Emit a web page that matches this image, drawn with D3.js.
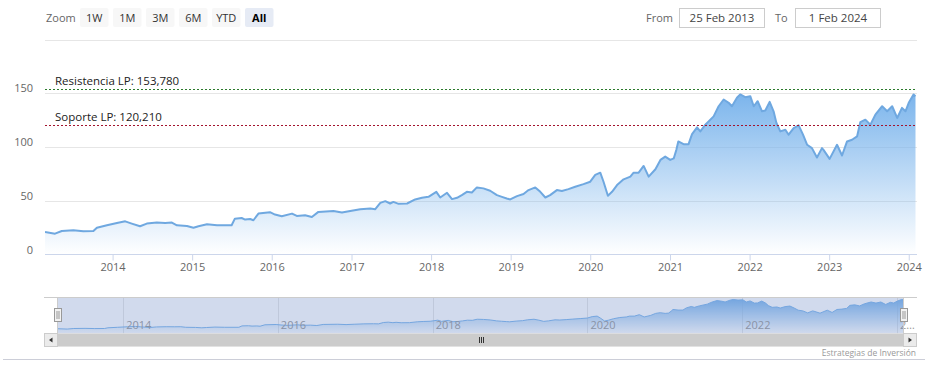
<!DOCTYPE html>
<html lang="es">
<head>
<meta charset="UTF-8">
<title>Cotización</title>
<script src="https://d3js.org/d3.v7.min.js"></script>
<style>
  body { margin: 0; background: #fff; }
  svg text { font-family: "Open Sans", "Noto Sans", sans-serif; }
</style>
</head>
<body>
<svg id="chart" width="931" height="373"></svg>
<script>
  // weekly-ish closes
  const dates = [
    "2013-02-25","2013-04-12","2013-05-13","2013-07-05","2013-08-20","2013-10-05","2013-10-21","2013-12-06",
    "2014-01-21","2014-02-28","2014-03-30","2014-05-07","2014-06-07","2014-07-23","2014-08-30","2014-09-30","2014-10-23","2014-12-08",
    "2015-01-07","2015-01-30","2015-03-10","2015-04-25","2015-07-01","2015-07-16","2015-08-16","2015-09-01","2015-09-24","2015-10-09","2015-11-01","2015-12-24",
    "2016-01-16","2016-02-16","2016-04-03","2016-04-25","2016-06-02","2016-07-03","2016-08-02","2016-10-10","2016-11-18","2016-12-26",
    "2017-02-10","2017-03-28","2017-04-20","2017-05-13","2017-06-05","2017-06-27","2017-07-12","2017-08-05","2017-09-13","2017-10-20","2017-11-20","2017-12-20",
    "2018-01-25","2018-02-12","2018-03-15","2018-04-07","2018-04-30","2018-05-22","2018-06-14","2018-07-07","2018-07-30","2018-08-29","2018-09-29","2018-10-30","2018-11-22","2018-12-14","2018-12-30",
    "2019-01-30","2019-03-01","2019-03-24","2019-04-24","2019-05-17","2019-06-09","2019-07-01","2019-08-01","2019-08-24","2019-09-23","2019-10-24","2019-12-01",
    "2020-01-01","2020-01-24","2020-02-16","2020-03-02","2020-03-22","2020-04-10","2020-05-03","2020-06-02","2020-07-03","2020-07-18","2020-08-10","2020-09-02","2020-09-25","2020-10-26","2020-11-18","2020-12-10",
    "2021-01-02","2021-01-18","2021-01-30","2021-02-08","2021-03-04","2021-03-27","2021-04-12","2021-05-05","2021-05-20","2021-06-12","2021-07-20","2021-08-12","2021-09-04","2021-09-27","2021-10-12","2021-11-04","2021-11-19","2021-12-12",
    "2022-01-04","2022-01-20","2022-02-07","2022-02-27","2022-03-14","2022-04-03","2022-04-21","2022-05-04","2022-05-22","2022-06-14","2022-06-29","2022-07-22","2022-08-14","2022-09-03","2022-09-22","2022-10-14","2022-11-06","2022-11-29","2022-12-06",
    "2023-01-03","2023-02-06","2023-03-01","2023-03-24","2023-04-16","2023-05-09","2023-05-24","2023-06-16","2023-07-09","2023-08-01","2023-09-01","2023-09-24","2023-10-17","2023-11-09","2023-12-01","2023-12-17",
    "2024-01-01","2024-01-23","2024-02-01"
  ];
  const prices = [
    20.9,19.4,21.9,22.5,21.6,21.9,25.0,27.2,
    29.4,30.9,28.8,26.3,28.8,29.7,29.4,29.7,27.2,26.6,
    25.0,26.3,28.1,27.2,27.2,33.4,34.0,32.5,33.1,31.9,38.1,39.4,
    37.2,35.6,38.1,35.9,36.6,35.0,39.7,40.6,39.1,40.6,
    42.2,42.8,42.2,48.1,49.7,47.5,49.0,47.2,47.5,51.3,52.8,53.7,
    58.4,53.1,57.5,51.6,52.8,55.3,58.4,57.8,62.5,61.6,59.4,55.3,53.7,52.2,51.3,
    54.4,56.3,60.0,62.5,58.4,53.1,55.3,60.0,59.1,60.9,63.1,65.6,
    67.8,74.1,76.2,67.8,54.7,58.4,64.7,70.0,72.5,76.2,76.2,82.5,72.5,79.4,88.1,91.2,
    88.1,89.5,97.5,105.3,102.8,102.8,112.2,118.4,114.7,120.9,128.7,138.1,144.4,141.3,138.1,146.0,149.1,146.5,
    147.5,138.1,142.8,133.4,134.1,142.2,133.4,122.5,114.7,116.2,111.6,117.8,120.3,111.6,102.2,99.1,90.3,99.1,97.5,
    89.1,102.2,92.2,105.3,106.9,110.0,123.4,125.6,120.9,130.3,138.1,133.4,138.1,127.2,136.6,133.4,
    141.3,149.1,147.5
  ];

  const yTicks = [0, 50, 100, 150];
  const yGrid = [50, 100, 150, 200];
  const xYears = [2014, 2015, 2016, 2017, 2018, 2019, 2020, 2021, 2022, 2023, 2024];
  const navYears = [2014, 2016, 2018, 2020, 2022, 2024];
  const levelNames = ["Resistencia LP: 153,780", "Soporte LP: 120,210"];
  const levelValues = [153.78, 120.21];
  const levelColors = ["#2b7a2b", "#a3142e"];
  const zoomButtons = ["1W", "1M", "3M", "6M", "YTD", "All"];
  const fromDate = "25 Feb 2013";
  const toDate = "1 Feb 2024";

  const parse = d3.timeParse("%Y-%m-%d");
  const data = dates.map((d, i) => ({ date: parse(d), value: prices[i] }));
  const start = data[0].date, end = data[data.length - 1].date;

  const svg = d3.select("#chart");
  const defs = svg.append("defs");

  const pLeft = 45, pRight = 915.5, pTop = 39.8, pBottom = 254.5;
  const x = d3.scaleTime().domain([start, end]).range([pLeft, pRight]);
  const y = d3.scaleLinear().domain([0, 200]).range([pBottom, pTop]);
  const maxV = d3.max(prices);

  // area gradient, like highcharts fillColor
  function gradient(id, y1, y2) {
    const g = defs.append("linearGradient").attr("id", id)
      .attr("gradientUnits", "userSpaceOnUse")
      .attr("x1", 0).attr("x2", 0).attr("y1", y1).attr("y2", y2);
    g.append("stop").attr("offset", 0).attr("stop-color", "#7cb5ec").attr("stop-opacity", 1);
    g.append("stop").attr("offset", 1).attr("stop-color", "#7cb5ec").attr("stop-opacity", 0);
  }
  gradient("fillMain", y(maxV), pBottom);

  defs.append("clipPath").attr("id", "plotClip")
    .append("rect").attr("x", pLeft).attr("y", pTop - 5).attr("width", pRight - pLeft + 1).attr("height", pBottom - pTop + 5);

  // grid
  svg.append("g").selectAll("line").data(yGrid).join("line")
    .attr("x1", pLeft).attr("x2", 917)
    .attr("y1", d => Math.round(y(d)) + 0.5).attr("y2", d => Math.round(y(d)) + 0.5)
    .attr("stroke", "#e6e6e6");

  svg.append("g").selectAll("text").data(yTicks).join("text")
    .attr("x", 33).attr("y", d => y(d) - 1)
    .attr("text-anchor", "end")
    .attr("font-size", "11px").attr("fill", "#666")
    .text(d => d);

  // series
  const plot = svg.append("g").attr("clip-path", "url(#plotClip)");
  plot.append("path").datum(data)
    .attr("fill", "url(#fillMain)")
    .attr("d", d3.area().x(d => x(d.date)).y0(y(0)).y1(d => y(d.value)));
  plot.append("path").datum(data)
    .attr("fill", "none").attr("stroke", "#6fa8e0").attr("stroke-width", 2)
    .attr("stroke-linejoin", "round")
    .attr("d", d3.line().x(d => x(d.date)).y(d => y(d.value)));

  // x axis
  const xAxis = svg.append("g").attr("transform", `translate(0,${pBottom})`)
    .call(d3.axisBottom(x)
      .tickValues(xYears.map(yr => new Date(yr, 0, 1)))
      .tickFormat(d3.timeFormat("%Y"))
      .tickSize(6).tickPadding(3));
  xAxis.select(".domain").remove();
  xAxis.selectAll(".tick line").attr("stroke", "#ccd6eb");
  xAxis.selectAll(".tick text").attr("font-size", "11px").attr("fill", "#666")
    .attr("font-family", "Open Sans, sans-serif");
  svg.append("line").attr("x1", pLeft).attr("x2", 917)
    .attr("y1", pBottom).attr("y2", pBottom).attr("stroke", "#ccd6eb");

  // support / resistance
  levelValues.forEach((v, i) => {
    svg.append("line")
      .attr("x1", pLeft).attr("x2", 917)
      .attr("y1", Math.round(y(v)) + 0.5).attr("y2", Math.round(y(v)) + 0.5)
      .attr("stroke", levelColors[i]).attr("stroke-dasharray", "2,2");
    svg.append("text")
      .attr("x", 55).attr("y", y(v) - 4)
      .attr("font-size", "11.5px").attr("fill", "#222")
      .text(levelNames[i]);
  });

  // range selector
  svg.append("text").attr("x", 46).attr("y", 22).attr("font-size", "11px").attr("fill", "#666").text("Zoom");
  const btn = svg.append("g").selectAll("g").data(zoomButtons).join("g")
    .attr("transform", (d, i) => `translate(${80 + i * 33},8)`);
  btn.append("rect").attr("width", 28.5).attr("height", 19).attr("rx", 2)
    .attr("fill", d => d === "All" ? "#e6ebf5" : "#f7f7f7");
  btn.append("text").attr("x", 14.25).attr("y", 14).attr("text-anchor", "middle")
    .attr("font-size", "11px").attr("fill", d => d === "All" ? "#000" : "#333")
    .attr("font-weight", d => d === "All" ? "bold" : "normal")
    .text(d => d);

  svg.append("text").attr("x", 646).attr("y", 22).attr("font-size", "11px").attr("fill", "#666").text("From");
  svg.append("text").attr("x", 775).attr("y", 22).attr("font-size", "11px").attr("fill", "#666").text("To");
  [[679.5, fromDate], [795.5, toDate]].forEach(([bx, t]) => {
    svg.append("rect").attr("x", bx).attr("y", 8.5).attr("width", 85).attr("height", 19)
      .attr("fill", "#fff").attr("stroke", "#cccccc");
    svg.append("text").attr("x", bx + 42.5).attr("y", 22).attr("text-anchor", "middle")
      .attr("font-size", "11.5px").attr("fill", "#444").text(t);
  });

  // navigator
  const nTop = 297, nBot = 333.5;
  const xn = d3.scaleTime().domain([start, end]).range([57.5, 903.5]);
  const yn = d3.scaleLinear().domain([0, 160]).range([nBot, nTop]);
  gradient("fillNav", yn(maxV), nBot);

  svg.append("g").selectAll("line").data(navYears).join("line")
    .attr("x1", d => Math.round(xn(new Date(d, 0, 1))) + 0.5)
    .attr("x2", d => Math.round(xn(new Date(d, 0, 1))) + 0.5)
    .attr("y1", nTop).attr("y2", nBot).attr("stroke", "#e6e6e6");

  svg.append("path").datum(data)
    .attr("fill", "url(#fillNav)")
    .attr("d", d3.area().x(d => xn(d.date)).y0(nBot).y1(d => yn(d.value)));
  svg.append("path").datum(data)
    .attr("fill", "none").attr("stroke", "#7cb5ec").attr("stroke-width", 1)
    .attr("d", d3.line().x(d => xn(d.date)).y(d => yn(d.value)));

  svg.append("g").selectAll("text").data(navYears).join("text")
    .attr("x", d => xn(new Date(d, 0, 1)) + 3).attr("y", 328.5)
    .attr("font-size", "11px").attr("fill", "#999")
    .text(d => d === 2024 ? "2…" : d);

  svg.append("rect").attr("x", xn.range()[0]).attr("y", nTop)
    .attr("width", xn.range()[1] - xn.range()[0]).attr("height", nBot - nTop)
    .attr("fill", "rgba(102,133,194,0.3)");

  svg.append("path")
    .attr("d", `M44,${nTop + 0.5}L917,${nTop + 0.5}M57.5,${nTop}V${nBot}M903.5,${nTop}V${nBot}`)
    .attr("fill", "none").attr("stroke", "#cccccc");

  // scrollbar
  const sTop = 333.5, sH = 13;
  svg.append("rect").attr("x", 44).attr("y", sTop).attr("width", 873).attr("height", sH).attr("fill", "#f2f2f2");
  svg.append("rect").attr("x", xn.range()[0]).attr("y", sTop)
    .attr("width", xn.range()[1] - xn.range()[0]).attr("height", sH).attr("fill", "#cccccc");
  [[44.5, -1], [903.5, 1]].forEach(([bx, dir]) => {
    svg.append("rect").attr("x", bx).attr("y", sTop).attr("width", 13).attr("height", sH)
      .attr("fill", "#ebebeb").attr("stroke", "#cccccc");
    const cx = bx + 6.5, cy = sTop + sH / 2;
    svg.append("path")
      .attr("d", `M${cx + dir * 2},${cy}L${cx - dir * 1.5},${cy - 2.5}L${cx - dir * 1.5},${cy + 2.5}Z`)
      .attr("fill", "#333");
  });
  const mid = (xn.range()[0] + xn.range()[1]) / 2;
  svg.append("path")
    .attr("d", [-2, 0, 2].map(o => `M${Math.round(mid) + o + 0.5},${sTop + 3.5}V${sTop + 9.5}`).join(""))
    .attr("stroke", "#333").attr("stroke-width", 1);

  // handles
  [54.5, 900.5].forEach(hx => {
    svg.append("rect").attr("x", hx).attr("y", 308.5).attr("width", 7).attr("height", 13)
      .attr("fill", "#f2f2f2").attr("stroke", "#999");
    svg.append("path").attr("d", `M${hx + 2.5},311V319M${hx + 4.5},311V319`)
      .attr("stroke", "#999");
  });

  // footer
  svg.append("line").attr("x1", 3).attr("x2", 925).attr("y1", 359.5).attr("y2", 359.5).attr("stroke", "#ccced8");
  svg.append("text").attr("x", 916).attr("y", 356).attr("text-anchor", "end")
    .attr("font-size", "8.5px").attr("fill", "#999").text("Estrategias de Inversión");
</script>
</body>
</html>
